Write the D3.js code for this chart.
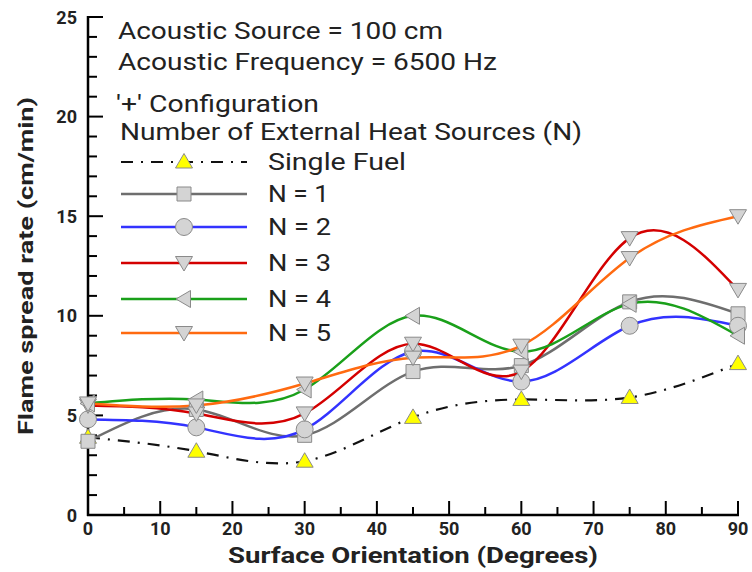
<!DOCTYPE html>
<meta charset="utf-8">
<style>
    body { margin: 0; background: #fff; }
    svg text { font-family: Roboto, "Open Sans", sans-serif; fill: #222; }
    .tick-label { font-size: 18px; font-weight: bold; }
    .axis-title { font-size: 22px; font-weight: bold; }
    .note { font-size: 23px; }
</style>
<body>
<script src="https://cdn.jsdelivr.net/npm/d3@7"></script>
<script>
    // values
    var angles = [0, 15, 30, 45, 60, 75, 90];
    var singleFuel = [3.9, 3.2, 2.7, 4.9, 5.8, 5.9, 7.6];
    var n1 = [3.7, 5.3, 4.0, 7.2, 7.5, 10.7, 10.1];
    var n2 = [4.8, 4.4, 4.3, 8.2, 6.7, 9.5, 9.5];
    var n3 = [5.5, 5.1, 5.1, 8.6, 7.2, 13.9, 11.3];
    var n4 = [5.6, 5.8, 6.3, 10.0, 8.2, 10.6, 9.0];
    var n5 = [5.6, 5.5, 6.6, 7.9, 8.5, 12.9, 15.0];
    var xTicks = [0, 10, 20, 30, 40, 50, 60, 70, 80, 90];
    var yTicks = [0, 5, 10, 15, 20, 25];

    var series = [
        {name: "Single Fuel", values: singleFuel, color: "#111", marker: "up", fill: "#ffff00", dash: "12,8,2,8"},
        {name: "N = 1", values: n1, color: "#6e6e6e", marker: "square", fill: "#d4d4d4"},
        {name: "N = 2", values: n2, color: "#3333ff", marker: "circle", fill: "#d4d4d4"},
        {name: "N = 3", values: n3, color: "#d40000", marker: "down", fill: "#d4d4d4"},
        {name: "N = 4", values: n4, color: "#1aa01a", marker: "left", fill: "#d4d4d4"},
        {name: "N = 5", values: n5, color: "#ff6a10", marker: "down", fill: "#d4d4d4"}
    ];

    var width = 752, height = 572;
    var x = d3.scaleLinear().domain([0, 90]).range([88, 738]);
    var y = d3.scaleLinear().domain([0, 25]).range([515, 17]);

    var svg = d3.select("body").append("svg")
        .attr("width", width)
        .attr("height", height);

    // marker shapes
    function markerPath(type) {
        if (type === "up") return "M0,-8.5L8.5,6L-8.5,6Z";
        if (type === "down") return "M0,8L8.5,-6.5L-8.5,-6.5Z";
        if (type === "left") return "M-8,0L6.5,-8.5L6.5,8.5Z";
        if (type === "square") return "M-7,-7H7V7H-7Z";
        return d3.symbol().type(d3.symbolCircle).size(Math.PI * 8.5 * 8.5)();
    }

    // axes
    svg.append("line").attr("x1", x(0)).attr("x2", x(0)).attr("y1", y(25) - 1).attr("y2", y(0) + 1)
        .attr("stroke", "#000").attr("stroke-width", 2.5);
    svg.append("line").attr("x1", x(0) - 1).attr("x2", x(90) + 1).attr("y1", y(0)).attr("y2", y(0))
        .attr("stroke", "#000").attr("stroke-width", 2.5);

    var yMinor = d3.range(0, 26, 1);
    svg.append("g").selectAll("line")
        .data(yMinor)
        .enter().append("line")
        .attr("x1", x(0))
        .attr("x2", d => x(0) + (d % 5 === 0 ? 15 : 9))
        .attr("y1", d => y(d)).attr("y2", d => y(d))
        .attr("stroke", "#000").attr("stroke-width", 2);

    var xMinor = d3.range(0, 91, 5);
    svg.append("g").selectAll("line")
        .data(xMinor)
        .enter().append("line")
        .attr("x1", d => x(d)).attr("x2", d => x(d))
        .attr("y1", y(0))
        .attr("y2", d => y(0) - (d % 10 === 0 ? 14 : 8))
        .attr("stroke", "#000").attr("stroke-width", 2);

    svg.append("g").selectAll("text")
        .data(yTicks)
        .enter().append("text")
        .attr("class", "tick-label")
        .attr("x", 77)
        .attr("y", d => y(d) + 6.5)
        .attr("text-anchor", "end")
        .text(d => d);

    svg.append("g").selectAll("text")
        .data(xTicks)
        .enter().append("text")
        .attr("class", "tick-label")
        .attr("x", d => x(d))
        .attr("y", 535)
        .attr("text-anchor", "middle")
        .text(d => d);

    svg.append("text")
        .attr("class", "axis-title")
        .attr("x", 413).attr("y", 563)
        .attr("text-anchor", "middle")
        .attr("textLength", 370)
        .attr("lengthAdjust", "spacingAndGlyphs")
        .text("Surface Orientation (Degrees)");

    svg.append("text")
        .attr("class", "axis-title")
        .attr("transform", "translate(33,266) rotate(-90)")
        .attr("text-anchor", "middle")
        .attr("textLength", 338)
        .attr("lengthAdjust", "spacingAndGlyphs")
        .style("font-size", "21px")
        .text("Flame spread rate (cm/min)");

    // curves
    var line = d3.line()
        .x((d, i) => x(angles[i]))
        .y(d => y(d))
        .curve(d3.curveNatural);

    svg.append("g").selectAll("path")
        .data(series)
        .enter().append("path")
        .attr("d", d => line(d.values))
        .attr("fill", "none")
        .attr("stroke", d => d.color)
        .attr("stroke-width", d => d.dash ? 2.2 : 2.5)
        .attr("stroke-dasharray", d => d.dash || null);

    series.forEach(function(s) {
        svg.append("g").selectAll("path")
            .data(s.values)
            .enter().append("path")
            .attr("transform", (d, i) => "translate(" + x(angles[i]) + "," + y(d) + ")")
            .attr("d", markerPath(s.marker))
            .attr("fill", s.fill)
            .attr("stroke", "#8a8a8a")
            .attr("stroke-width", 1);
    });

    // notes and legend
    var notes = [
        {text: "Acoustic Source = 100 cm", x: 118, y: 39, len: 325},
        {text: "Acoustic Frequency = 6500 Hz", x: 118, y: 70, len: 379},
        {text: "'+' Configuration", x: 116, y: 112, len: 203},
        {text: "Number of External Heat Sources (N)", x: 120, y: 140, len: 462}
    ];
    svg.append("g").selectAll("text")
        .data(notes)
        .enter().append("text")
        .attr("class", "note")
        .attr("x", d => d.x).attr("y", d => d.y)
        .attr("textLength", d => d.len)
        .attr("lengthAdjust", "spacingAndGlyphs")
        .text(d => d.text);

    var legendY = [162, 194, 227, 263, 299, 333];
    var legendLen = [138, 61, 63, 63, 63, 63];
    var legend = svg.append("g").selectAll("g")
        .data(series)
        .enter().append("g")
        .attr("transform", (d, i) => "translate(0," + legendY[i] + ")");

    legend.append("line")
        .attr("x1", 121).attr("x2", 247)
        .attr("stroke", d => d.color)
        .attr("stroke-width", d => d.dash ? 2.2 : 2.5)
        .attr("stroke-dasharray", d => d.dash || null);

    legend.append("path")
        .attr("transform", "translate(184,0)")
        .attr("d", d => markerPath(d.marker))
        .attr("fill", d => d.fill)
        .attr("stroke", "#8a8a8a")
        .attr("stroke-width", 1);

    legend.append("text")
        .attr("class", "note")
        .attr("x", 268).attr("y", 8)
        .attr("textLength", (d, i) => legendLen[i])
        .attr("lengthAdjust", "spacingAndGlyphs")
        .text(d => d.name);
</script>
</body>
